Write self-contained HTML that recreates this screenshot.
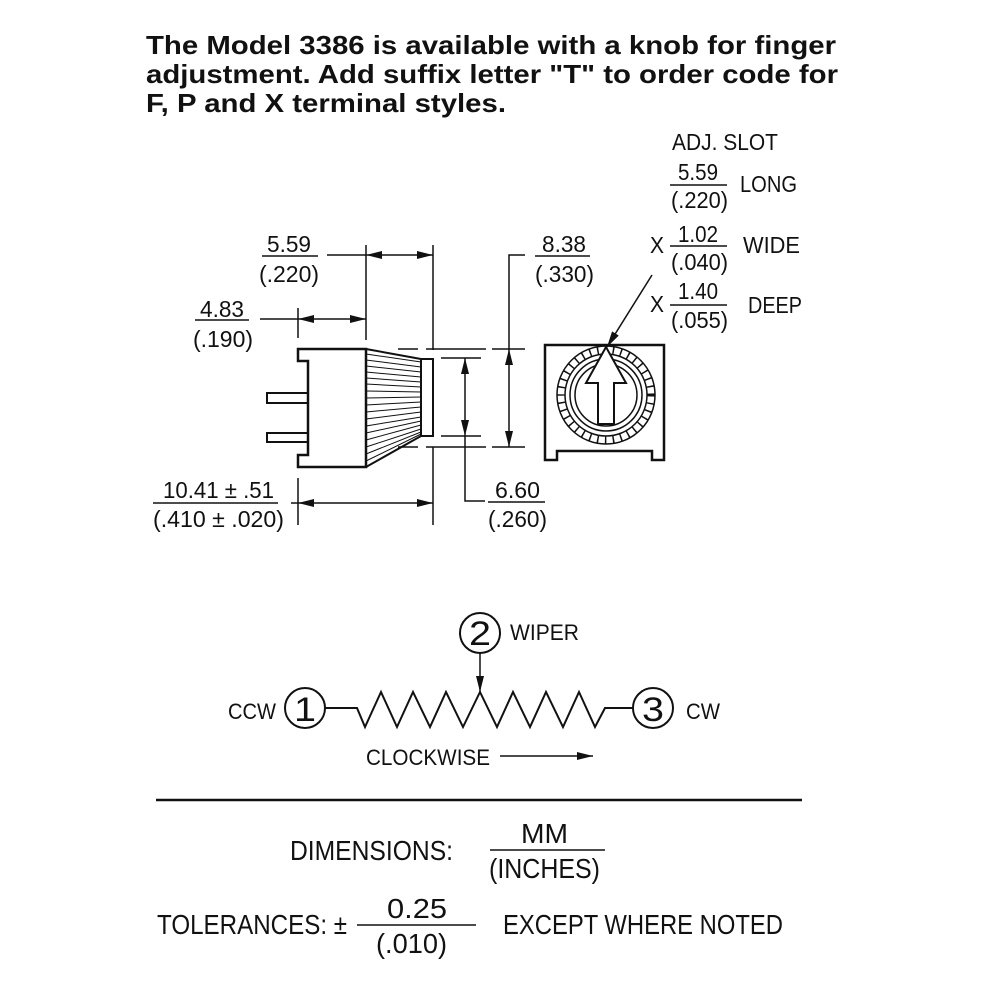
<!DOCTYPE html>
<html><head><meta charset="utf-8"><style>
html,body{margin:0;padding:0;background:#fff;}
svg{display:block}
text{font-family:"Liberation Sans",sans-serif;fill:#111}
.d{font-size:23px}
</style></head><body>
<svg width="1000" height="1000" viewBox="0 0 1000 1000" xmlns="http://www.w3.org/2000/svg">
<defs>
<marker id="ah" viewBox="0 0 16 8" refX="16" refY="4" markerWidth="16" markerHeight="8" markerUnits="userSpaceOnUse" orient="auto-start-reverse"><path d="M0,0 L16,4 L0,8 z" fill="#111"/></marker>
</defs>
<g font-weight="bold" font-size="26">
<text x="146" y="54" textLength="690" lengthAdjust="spacingAndGlyphs">The Model 3386 is available with a knob for finger</text>
<text x="146" y="83" textLength="692" lengthAdjust="spacingAndGlyphs">adjustment. Add suffix letter "T" to order code for</text>
<text x="146" y="112" textLength="360" lengthAdjust="spacingAndGlyphs">F, P and X terminal styles.</text>
</g>
<g stroke="#111" fill="none" stroke-width="2">
<path d="M298,349 H366 V467 H298 V455 H308 V361 H298 Z" stroke-width="2.5"/>
<path d="M308,393 H267 V403 H308 M308,433 H267 V442 H308"/>
<path d="M366,349 L421,359 M366,467 L421,436"/>
<rect x="421" y="359" width="12" height="77"/>
</g>
<g stroke="#111" stroke-width="1">
<line x1="366" y1="354" x2="421" y2="362"/><line x1="366" y1="360" x2="421" y2="367"/><line x1="366" y1="366" x2="421" y2="372"/>
<line x1="366" y1="372" x2="421" y2="377"/><line x1="366" y1="378" x2="421" y2="382"/><line x1="366" y1="384" x2="421" y2="387"/>
<line x1="366" y1="391" x2="421" y2="392"/><line x1="366" y1="398" x2="421" y2="397"/><line x1="366" y1="405" x2="421" y2="402"/>
<line x1="366" y1="412" x2="421" y2="407"/><line x1="366" y1="419" x2="421" y2="412"/><line x1="366" y1="426" x2="421" y2="417"/>
<line x1="366" y1="433" x2="421" y2="421"/><line x1="366" y1="440" x2="421" y2="425"/><line x1="366" y1="447" x2="421" y2="429"/>
<line x1="366" y1="454" x2="421" y2="432"/><line x1="366" y1="461" x2="421" y2="434"/>
</g>
<g stroke="#111" stroke-width="1.5" fill="none">
<line x1="366" y1="245" x2="366" y2="340"/>
<line x1="433" y1="245" x2="433" y2="350"/><line x1="433" y1="447" x2="433" y2="525"/>
<line x1="298" y1="308" x2="298" y2="338"/><line x1="298" y1="478" x2="298" y2="525"/>
<line x1="327" y1="255" x2="366" y2="255"/>
<line x1="366" y1="255" x2="433" y2="255" marker-start="url(#ah)" marker-end="url(#ah)"/>
<line x1="260" y1="319" x2="298" y2="319"/>
<line x1="298" y1="319" x2="366" y2="319" marker-start="url(#ah)" marker-end="url(#ah)"/>
<line x1="291" y1="503" x2="298" y2="503"/>
<line x1="298" y1="503" x2="433" y2="503" marker-start="url(#ah)" marker-end="url(#ah)"/>
<line x1="398" y1="349" x2="525" y2="349" stroke-dasharray="20,8,60,6,40"/>
<line x1="398" y1="447" x2="525" y2="447" stroke-dasharray="20,8,60,6,40"/>
<line x1="441" y1="358" x2="481" y2="358"/><line x1="441" y1="436" x2="481" y2="436"/>
<line x1="465" y1="358" x2="465" y2="436" marker-start="url(#ah)" marker-end="url(#ah)"/>
<polyline points="465,436 465,501 485,501"/>
<line x1="509" y1="349" x2="509" y2="447" marker-start="url(#ah)" marker-end="url(#ah)"/>
<polyline points="509,349 509,255 525,255"/>
<line x1="262" y1="256" x2="318" y2="256"/>
<line x1="195" y1="320" x2="249" y2="320"/>
<line x1="535" y1="256" x2="590" y2="256"/>
<line x1="153" y1="503" x2="278" y2="503"/>
<line x1="488" y1="502" x2="545" y2="502"/>
<line x1="670" y1="185" x2="727" y2="185"/>
<line x1="670" y1="246" x2="727" y2="246"/>
<line x1="670" y1="305" x2="727" y2="305"/>
</g>
<g class="d">
<text x="267" y="252" textLength="44" lengthAdjust="spacingAndGlyphs">5.59</text>
<text x="259" y="282" textLength="60" lengthAdjust="spacingAndGlyphs">(.220)</text>
<text x="200" y="317" textLength="44" lengthAdjust="spacingAndGlyphs">4.83</text>
<text x="193" y="347" textLength="60" lengthAdjust="spacingAndGlyphs">(.190)</text>
<text x="542" y="252" textLength="44" lengthAdjust="spacingAndGlyphs">8.38</text>
<text x="535" y="282" textLength="59" lengthAdjust="spacingAndGlyphs">(.330)</text>
<text x="163" y="498" textLength="111" lengthAdjust="spacingAndGlyphs">10.41 ± .51</text>
<text x="153" y="527" textLength="131" lengthAdjust="spacingAndGlyphs">(.410 ± .020)</text>
<text x="495" y="498" textLength="45" lengthAdjust="spacingAndGlyphs">6.60</text>
<text x="488" y="527" textLength="59" lengthAdjust="spacingAndGlyphs">(.260)</text>
<text x="672" y="150" textLength="106" lengthAdjust="spacingAndGlyphs">ADJ. SLOT</text>
<text x="678" y="180" textLength="40" lengthAdjust="spacingAndGlyphs">5.59</text>
<text x="671" y="208" textLength="57" lengthAdjust="spacingAndGlyphs">(.220)</text>
<text x="740" y="192" textLength="57" lengthAdjust="spacingAndGlyphs">LONG</text>
<text x="650" y="253" textLength="14" lengthAdjust="spacingAndGlyphs">X</text>
<text x="678" y="242" textLength="40" lengthAdjust="spacingAndGlyphs">1.02</text>
<text x="671" y="270" textLength="57" lengthAdjust="spacingAndGlyphs">(.040)</text>
<text x="743" y="253" textLength="57" lengthAdjust="spacingAndGlyphs">WIDE</text>
<text x="650" y="312" textLength="14" lengthAdjust="spacingAndGlyphs">X</text>
<text x="678" y="299" textLength="40" lengthAdjust="spacingAndGlyphs">1.40</text>
<text x="671" y="328" textLength="57" lengthAdjust="spacingAndGlyphs">(.055)</text>
<text x="748" y="313" textLength="54" lengthAdjust="spacingAndGlyphs">DEEP</text>
</g>
<g stroke="#111" fill="none" stroke-width="2.5">
<path d="M545,345 H664 V460 H652 V451 H557 V460 H545 Z"/>
</g>
<g stroke="#111" fill="none" stroke-width="1.5">
<circle cx="606" cy="395" r="49"/>
<circle cx="606" cy="395" r="41"/>
<circle cx="606" cy="395" r="36"/>
<circle cx="606" cy="395" r="31"/>
<circle cx="606" cy="395" r="45" stroke-width="8" stroke-dasharray="1.5,6.3"/>
<path d="M606,347 L586,383 H598 V424 H614 V383 H626 Z" fill="#fff" stroke-width="2"/>
<line x1="652" y1="275" x2="607" y2="347" marker-end="url(#ah)"/>
</g>
<g stroke="#111" fill="none" stroke-width="2">
<circle cx="305" cy="708" r="20"/>
<circle cx="480" cy="633" r="20"/>
<circle cx="653" cy="708" r="20"/>
<polyline points="325,708 357,708 365,727 381,692 397,727 413,692 430,727 446,692 463,727 480,692 497,727 513,692 530,727 546,692 563,727 579,692 595,727 605,708 633,708"/>
<line x1="480" y1="653" x2="480" y2="692" stroke-width="1.5" marker-end="url(#ah)"/>
<line x1="500" y1="756" x2="593" y2="756" stroke-width="1.5" marker-end="url(#ah)"/>
<line x1="156" y1="800" x2="802" y2="800" stroke-width="2.5"/>
<line x1="490" y1="850" x2="605" y2="850" stroke-width="1.5"/>
<line x1="357" y1="925" x2="476" y2="925" stroke-width="1.5"/>
</g>
<g font-size="34">
<text x="294" y="721" textLength="22" lengthAdjust="spacingAndGlyphs">1</text>
<text x="469" y="645" textLength="22" lengthAdjust="spacingAndGlyphs">2</text>
<text x="642" y="721" textLength="22" lengthAdjust="spacingAndGlyphs">3</text>
</g>
<g font-size="22">
<text x="228" y="719" textLength="48" lengthAdjust="spacingAndGlyphs">CCW</text>
<text x="510" y="640" textLength="69" lengthAdjust="spacingAndGlyphs">WIPER</text>
<text x="686" y="719" textLength="34" lengthAdjust="spacingAndGlyphs">CW</text>
<text x="366" y="765" textLength="124" lengthAdjust="spacingAndGlyphs">CLOCKWISE</text>
</g>
<g font-size="28">
<text x="290" y="860" textLength="163" lengthAdjust="spacingAndGlyphs">DIMENSIONS:</text>
<text x="521" y="843" textLength="47" lengthAdjust="spacingAndGlyphs">MM</text>
<text x="489" y="878" textLength="111" lengthAdjust="spacingAndGlyphs">(INCHES)</text>
<text x="157" y="934" textLength="190" lengthAdjust="spacingAndGlyphs">TOLERANCES: ±</text>
<text x="387" y="918" textLength="60" lengthAdjust="spacingAndGlyphs">0.25</text>
<text x="376" y="953" textLength="71" lengthAdjust="spacingAndGlyphs">(.010)</text>
<text x="503" y="934" textLength="280" lengthAdjust="spacingAndGlyphs">EXCEPT WHERE NOTED</text>
</g>
</svg>
</body></html>
